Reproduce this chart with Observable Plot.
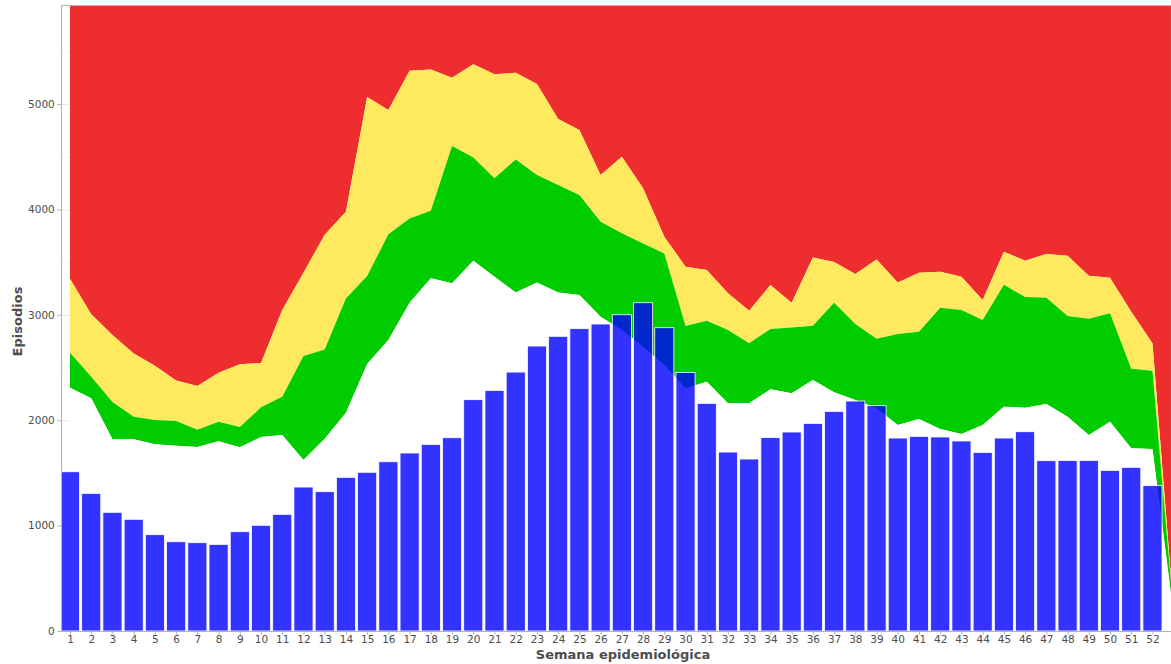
<!DOCTYPE html>
<html>
<head>
<meta charset="utf-8">
<script src="https://cdn.jsdelivr.net/npm/d3@7"></script>
<script src="https://cdn.jsdelivr.net/npm/@observablehq/plot@0.6"></script>
<style>
  html, body { margin: 0; padding: 0; background: #ffffff; overflow: hidden; }
</style>
</head>
<body>
<div id="chart"></div>
<script>
// Epidemiological weeks (bars) and area weeks (bands extend one step further)
const weeks = d3.range(1, 53);
const areaWeeks = d3.range(1, 54);

// Weekly episodes (bars)
const cases = [1511,1306,1126,1060,914,847,838,822,942,1003,
               1107,1366,1322,1458,1506,1606,1689,1771,1834,2195,
               2283,2457,2704,2796,2869,2913,3001,3115,2878,2454,
               2160,1698,1632,1835,1888,1970,2084,2182,2138,1831,
               1847,1841,1803,1695,1831,1891,1616,1619,1619,1524,
               1553,1379];

// Threshold curves (endemic channel)
const lowerCurve = [2308,2208,1819,1819,1771,1758,1746,1800,1743,1841,
                    1860,1622,1825,2071,2533,2761,3115,3346,3299,3513,
                    3362,3213,3308,3213,3188,2982,2856,2698,2524,2303,
                    2366,2160,2160,2293,2255,2381,2265,2192,2113,1954,
                    2011,1917,1869,1954,2128,2119,2154,2033,1860,1986,
                    1733,1727,150];
const greenTop = [2641,2413,2173,2033,2002,1992,1910,1986,1935,2122,
                  2223,2609,2672,3156,3368,3764,3915,3988,4602,4494,
                  4295,4475,4326,4232,4137,3884,3773,3678,3583,2894,
                  2944,2856,2730,2865,2881,2897,3115,2913,2774,2818,
                  2840,3068,3046,2951,3286,3169,3163,2989,2963,3014,
                  2489,2470,170];
const yellowTop = [3343,3005,2808,2634,2518,2378,2324,2451,2530,2543,
                   3045,3400,3760,3978,5066,4943,5316,5329,5250,5377,
                   5282,5297,5190,4858,4753,4326,4500,4200,3741,3457,
                   3425,3204,3039,3283,3115,3545,3501,3387,3526,3308,
                   3400,3409,3362,3140,3599,3514,3577,3561,3371,3352,
                   3030,2730,190];

const yTicks = [0, 1000, 2000, 3000, 4000, 5000];
const yMinor = [500, 1500, 2500, 3500, 4500, 5500];
const yMax = 5940;

const xTitle = "Semana epidemiológica";
const yTitle = "Episodios";

const bars = weeks.map((w, i) => ({week: w, cases: cases[i]}));
const bands = areaWeeks.map((w, i) => ({
  week: w, lower: lowerCurve[i], green: greenTop[i], yellow: yellowTop[i]
}));

const chart = Plot.plot({
  width: 1171,
  height: 664,
  marginLeft: 61,
  marginRight: 0,
  marginTop: 5,
  marginBottom: 33,
  style: {fontFamily: "DejaVu Sans", background: "#ffffff", overflow: "hidden"},
  x: {type: "linear", domain: [0.576, 52.873]},
  y: {domain: [0, yMax]},
  marks: [
    Plot.ruleY(yMinor, {stroke: "#ececec", strokeWidth: 0.5}),
    Plot.ruleY(yTicks, {stroke: "#dedede", strokeWidth: 0.7}),
    Plot.areaY(bands, {x: "week", y1: "yellow", y2: () => yMax, fill: "#EE2E2E", clip: true}),
    Plot.areaY(bands, {x: "week", y1: "green", y2: "yellow", fill: "#FFE95E", clip: true}),
    Plot.areaY(bands, {x: "week", y1: "lower", y2: "green", fill: "#00CC00", clip: true}),
    Plot.areaY(bands, {x: "week", y1: 0, y2: "lower", fill: "#ffffff", clip: true}),
    Plot.rectY(bars, {
      x1: d => d.week - 0.45, x2: d => d.week + 0.45, y1: 0, y2: "cases",
      fill: "#0000ff", fillOpacity: 0.8, stroke: "#ffffff", strokeWidth: 0.8, clip: true
    }),
    Plot.frame({stroke: "#b3b3b3", strokeWidth: 1.1}),
    Plot.axisY(yTicks, {
      tickSize: 3.7, tickPadding: 3, fontSize: 10.5, stroke: "#b3b3b3", fill: "#4d4d4d",
      tickFormat: d => String(d), label: null
    }),
    Plot.axisX(weeks, {
      tickSize: 3.7, tickPadding: 0, fontSize: 10.5, stroke: "#b3b3b3", fill: "#4d4d4d",
      tickFormat: d => String(d), label: null
    }),
    Plot.text([xTitle], {
      text: d => d, frameAnchor: "bottom", textAnchor: "middle", lineAnchor: "middle",
      dx: 6.5, dy: 23, fontSize: 13, fontWeight: "bold", fill: "#4d4d4d"
    }),
    Plot.text([yTitle], {
      text: d => d, frameAnchor: "left", textAnchor: "middle", lineAnchor: "middle",
      dx: -44, dy: 3, rotate: -90, fontSize: 13, fontWeight: "bold", fill: "#4d4d4d"
    })
  ]
});

document.getElementById("chart").appendChild(chart);
</script>
</body>
</html>
